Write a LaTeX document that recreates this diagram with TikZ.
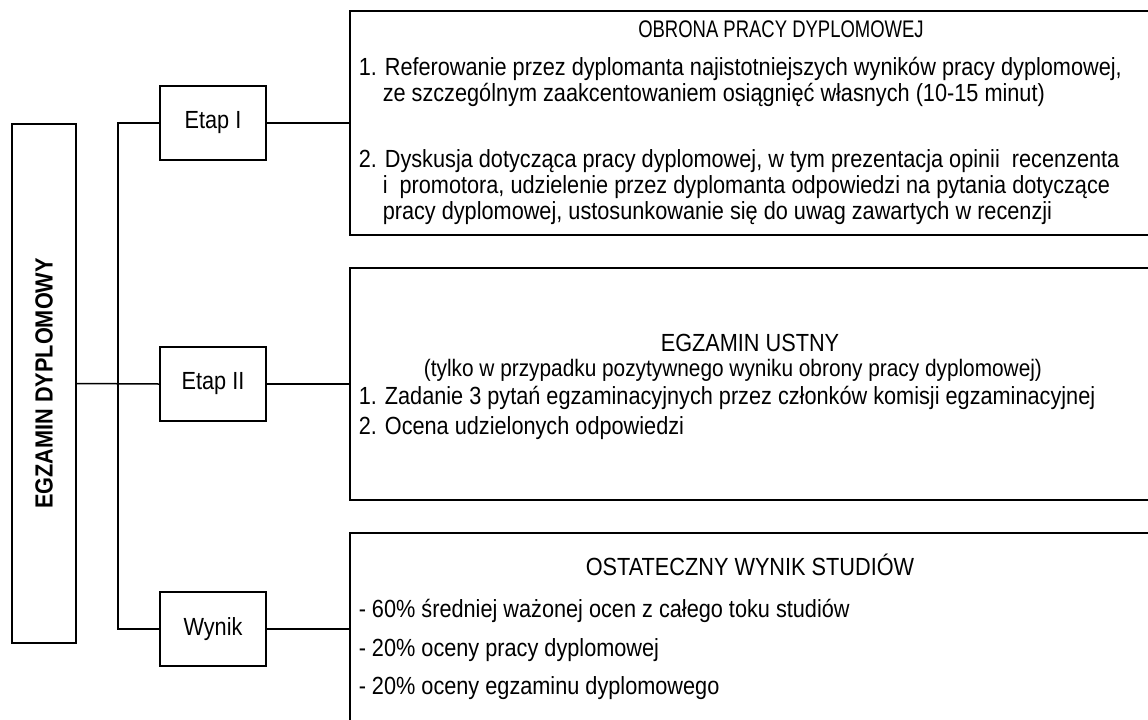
\documentclass[tikz,border=0pt]{standalone}
\usepackage{fontspec}
\setmainfont[FakeStretch=0.875]{Liberation Sans}
\usetikzlibrary{positioning}

\begin{document}
\begin{tikzpicture}[x=0.5pt, y=-0.5pt, line width=0.75pt]
  \tikzset{EtapStyle/.style = {shape          = rectangle,
                               draw,
                               font           = \fontsize{12.4}{14}\selectfont,
                               inner sep      = 0pt,
                               minimum width  = 53pt,
                               minimum height = 37pt},
           PanelStyle/.style = {shape = rectangle, draw, anchor = north west,
                                inner sep = 0pt, minimum width = 420pt},
           HeadStyle/.style = {anchor = base, inner sep = 0pt,
                               font = \fontsize{#1}{14}\selectfont},
           HeadStyle/.default = 12.4,
           ItemStyle/.style = {anchor = base west, inner sep = 0pt,
                               font = \fontsize{12.4}{14}\selectfont}}
  \useasboundingbox (0,0) rectangle (1148,719);
  \clip (0,0) rectangle (1148,719);
  %%% LEWA STRONA %%%
  \node[draw, rotate=90, minimum width=259.5pt, minimum height=32pt, inner sep=0pt,
        font=\bfseries\fontsize{12.4}{14}\selectfont](egz) at (44,383.5){EGZAMIN DYPLOMOWY};
  \node[EtapStyle](etap1) at (213,123){Etap I};
  \node[EtapStyle](etap2) at (213,384){Etap II};
  \node[EtapStyle](wynik) at (213,629){Wynik};
  \coordinate (split) at (118,384);
  \draw (egz.south) -- (etap2.west);
  \draw (etap1.west) -| (split) |- (wynik.west);
  %%% PRAWA STRONA %%%
  \node[PanelStyle, minimum height=112pt](obrona) at (349,10){};
  \node[PanelStyle, minimum height=116pt](ustny) at (349,267){};
  \node[PanelStyle, minimum height=100pt](studia) at (349,532){};
  \draw (etap1.east) -- (etap1.east -| obrona.west);
  \draw (etap2.east) -- (etap2.east -| ustny.west);
  \draw (wynik.east) -- (wynik.east -| studia.west);
  % obrona
  \node[HeadStyle=12](obronaHead) at (781,37){\scalebox{0.88}[1]{OBRONA PRACY DYPLOMOWEJ}};
  \node[ItemStyle](obronaA1) at (358,75){1. Referowanie przez dyplomanta najistotniejszych wyników pracy dyplomowej,};
  \node[ItemStyle](obronaA2) at (382,101){ze szczególnym zaakcentowaniem osiągnięć własnych (10-15 minut)};
  \node[ItemStyle](obronaB1) at (358,167){2. Dyskusja dotycząca pracy dyplomowej, w tym prezentacja opinii\ \ recenzenta};
  \node[ItemStyle](obronaB2) at (382,193){i\ \ promotora, udzielenie przez dyplomanta odpowiedzi na pytania dotyczące};
  \node[ItemStyle](obronaB3) at (382,219){pracy dyplomowej, ustosunkowanie się do uwag zawartych w recenzji};
  % egzamin ustny
  \node[HeadStyle](ustnyHead) at (750,351){EGZAMIN USTNY};
  \node[HeadStyle=11.9](ustnySub) at (733,376){(tylko w przypadku pozytywnego wyniku obrony pracy dyplomowej)};
  \node[ItemStyle](ustnyA) at (358,404){1. Zadanie 3 pytań egzaminacyjnych przez członków komisji egzaminacyjnej};
  \node[ItemStyle](ustnyB) at (358,434){2. Ocena udzielonych odpowiedzi};
  % wynik studiow
  \node[HeadStyle](studiaHead) at (750,575){OSTATECZNY WYNIK STUDIÓW};
  \node[ItemStyle](studiaA) at (358,617){- 60\% średniej ważonej ocen z całego toku studiów};
  \node[ItemStyle](studiaB) at (358,656){- 20\% oceny pracy dyplomowej};
  \node[ItemStyle](studiaC) at (358,694){- 20\% oceny egzaminu dyplomowego};
\end{tikzpicture}
\end{document}
